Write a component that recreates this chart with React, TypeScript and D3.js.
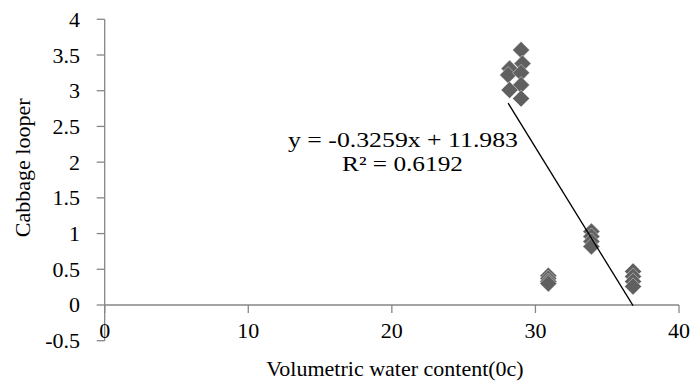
import React from "react";
import * as d3 from "d3";

// Scatter observations: volumetric water content vs. cabbage looper counts
const waterContent = [
  29.0, 29.1, 28.2, 28.1, 29.0, 29.0, 28.2, 29.0,
  30.9, 30.9, 30.9, 30.9,
  33.9, 33.9, 33.9, 33.9,
  36.8, 36.8, 36.8, 36.8,
];
const looper = [
  3.57, 3.38, 3.31, 3.22, 3.25, 3.08, 3.01, 2.89,
  0.41, 0.37, 0.33, 0.3,
  1.03, 0.96, 0.89, 0.82,
  0.47, 0.4, 0.33, 0.26,
];

// Linear trendline coefficients and fit statistic
const slope = -0.3259;
const intercept = 11.983;
const rSquared = "0.6192";

const xTicks = [0, 10, 20, 30, 40];
const yTicks = [-0.5, 0, 0.5, 1, 1.5, 2, 2.5, 3, 3.5, 4];

const W = 694;
const H = 383;
const FONT = "'Liberation Serif', Tinos, 'Times New Roman', Times, 'DejaVu Serif', serif";
const FS = 22;
const AXIS = "#868686";

export default function App() {
  const x = d3.scaleLinear().domain([0, 40]).range([104.7, 679]);
  const y = d3.scaleLinear().domain([-0.5, 4]).range([340.7, 19.3]);

  const xMin = d3.min(waterContent) as number;
  const xMax = d3.max(waterContent) as number;
  const trend = d3
    .line<number>()
    .x((d) => x(d))
    .y((d) => y(slope * d + intercept));

  const diamond = d3.symbol().type(d3.symbolSquare).size(145)() as string;

  const txt = (extra: React.SVGProps<SVGTextElement>, s: string | number) => (
    <text fontFamily={FONT} fontSize={FS} fill="#000" dominantBaseline="central" {...extra}>
      {s}
    </text>
  );

  return (
    <svg
      width={W}
      height={H}
      style={{ position: "absolute", left: 0, top: 0, background: "#fff", fontFamily: FONT }}
    >
      {/* y axis */}
      <line x1={x(0)} x2={x(0)} y1={y(4)} y2={y(-0.5)} stroke={AXIS} strokeWidth={1.3} />
      {yTicks.map((t) => (
        <g key={t}>
          <line x1={x(0) - 8} x2={x(0)} y1={y(t)} y2={y(t)} stroke={AXIS} strokeWidth={1.3} />
          {txt({ x: 80, y: y(t), textAnchor: "end" }, t)}
        </g>
      ))}

      {/* x axis along zero */}
      <line x1={x(0)} x2={x(40)} y1={y(0)} y2={y(0)} stroke={AXIS} strokeWidth={1.3} />
      {xTicks.map((t) => (
        <g key={t}>
          <line x1={x(t)} x2={x(t)} y1={y(0)} y2={y(0) + 8} stroke={AXIS} strokeWidth={1.3} />
          {txt({ x: x(t), y: 330, textAnchor: "middle" }, t)}
        </g>
      ))}

      {/* axis titles */}
      {txt({ x: 395, y: 368, textAnchor: "middle" }, "Volumetric water content(0c)")}
      {txt(
        { transform: `translate(22,${y(1.92)}) rotate(-90)`, textAnchor: "middle" },
        "Cabbage looper"
      )}

      {/* points */}
      {waterContent.map((w, i) => (
        <path
          key={i}
          d={diamond}
          transform={`translate(${x(w)},${y(looper[i])}) rotate(45)`}
          fill="#606060"
          stroke="#ffffff"
          strokeWidth={0.4}
        />
      ))}

      {/* trendline */}
      <path d={trend([xMin, xMax]) as string} stroke="#000" strokeWidth={1.3} fill="none" />

      {/* equation label */}
      {txt(
        { x: 288, y: 139, textLength: 230, lengthAdjust: "spacingAndGlyphs" },
        `y = ${slope}x + ${intercept}`
      )}
      {txt(
        { x: 342, y: 163, textLength: 121, lengthAdjust: "spacingAndGlyphs" },
        `R² = ${rSquared}`
      )}
    </svg>
  );
}
